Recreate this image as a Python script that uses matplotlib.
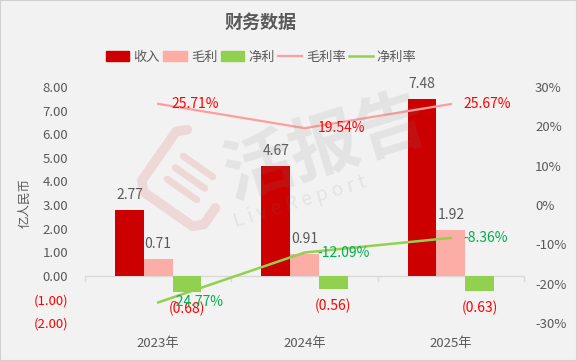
import matplotlib
matplotlib.use("Agg")
import matplotlib.pyplot as plt
from matplotlib.patches import Patch, Rectangle
from matplotlib.lines import Line2D
from matplotlib.ticker import FuncFormatter, FixedLocator
import matplotlib.transforms as mtransforms
import numpy as np

plt.rcParams['font.family'] = ['Noto Sans CJK SC', 'DejaVu Sans']

# ---------------- data ----------------
years = ["2023年", "2024年", "2025年"]
revenue = [2.77, 4.67, 7.48]
gross_profit = [0.71, 0.91, 1.92]
net_profit = [-0.68, -0.56, -0.63]
gross_margin = [25.71, 19.54, 25.67]
net_margin = [-24.77, -12.09, -8.36]

series_names = ["收入", "毛利", "净利", "毛利率", "净利率"]
left_ticks = [8, 7, 6, 5, 4, 3, 2, 1, 0, -1, -2]
right_ticks = [30, 20, 10, 0, -10, -20, -30]

# ---------------- style ----------------
BG = "#F2F2F2"
GREY = "#595959"
C_REV = "#CC0000"
C_GP = "#FBADA6"
C_NP = "#92D050"
C_GM = "#FF9D9D"
C_NM = "#92D050"
RED_TXT = "#FF0000"
GREEN_TXT = "#00B050"

W, H = 577, 361
fig = plt.figure(figsize=(W / 100, H / 100), dpi=100, facecolor=BG)

# figure border
fig.patches.append(Rectangle((0, 0), 1, 1, transform=fig.transFigure,
                             fill=False, edgecolor="#D0D0D0", linewidth=1.5))

left, right = 85 / W, 524 / W
bottom, top = 1 - 323 / H, 1 - 87 / H
ax = fig.add_axes([left, bottom, right - left, top - bottom])
ax.set_facecolor("none")
ax2 = ax.twinx()
ax2.set_facecolor("none")

x = np.arange(len(years))
bw = 0.196
ax.bar(x - bw, revenue, bw, color=C_REV, zorder=2)
ax.bar(x, gross_profit, bw, color=C_GP, zorder=2)
ax.bar(x + bw, net_profit, bw, color=C_NP, zorder=2)

ax.set_xlim(-0.5, 2.5)
ax.set_ylim(-2, 8)
ax2.set_ylim(-30, 30)

for a in (ax, ax2):
    for s in a.spines.values():
        s.set_visible(False)

# zero axis line with boundary ticks
ax.axhline(0, color="#D9D9D9", linewidth=1, zorder=1)
tick_len = 5 / (323 - 87) * 10
for b in [-0.5, 0.5, 1.5, 2.5]:
    ax.plot([b, b], [0, -tick_len], color="#D9D9D9", linewidth=1, zorder=1, clip_on=False)

ax.set_xticks([])
ax.yaxis.set_major_locator(FixedLocator(left_ticks))
ax.yaxis.set_major_formatter(FuncFormatter(lambda v, p: f"({abs(v):.2f})" if v < 0 else f"{v:.2f}"))
ax.tick_params(axis="y", length=0, labelsize=9.5, labelcolor=GREY, pad=12)
for lab, v in zip(ax.get_yticklabels(), left_ticks):
    if v < 0:
        lab.set_color(RED_TXT)

ax2.yaxis.set_major_locator(FixedLocator(right_ticks))
ax2.yaxis.set_major_formatter(FuncFormatter(lambda v, p: f"{v:.0f}%"))
ax2.tick_params(axis="y", length=0, labelsize=9.5, labelcolor=GREY, pad=8)

# y-axis title
fig.text(25 / W, 1 - 203 / H, "亿人民币", rotation=90, ha="center", va="center",
         fontsize=9, color=GREY)

# category labels at the bottom
trans = mtransforms.blended_transform_factory(ax.transData, fig.transFigure)
for xi, yr in zip(x, years):
    ax.text(xi, 1 - 343 / H, yr, transform=trans, ha="center", va="center",
            fontsize=9.5, color=GREY)

# lines
ax2.plot(x, gross_margin, color=C_GM, linewidth=1.6, zorder=3)
ax2.plot(x, net_margin, color=C_NM, linewidth=1.8, zorder=3)

# bar labels
for xi, v in zip(x, revenue):
    ax.annotate(f"{v:.2f}", (xi - bw, v), xytext=(0, 15), textcoords="offset pixels",
                ha="center", va="center", fontsize=10, color=GREY, zorder=5)
for xi, v in zip(x, gross_profit):
    ax.annotate(f"{v:.2f}", (xi, v), xytext=(0, 15), textcoords="offset pixels",
                ha="center", va="center", fontsize=10, color=GREY, zorder=5)
for xi, v in zip(x, net_profit):
    ax.annotate(f"({abs(v):.2f})", (xi + bw, v), xytext=(0, -17), textcoords="offset pixels",
                ha="center", va="center", fontsize=10, color=RED_TXT, zorder=5)

for xi, v in zip(x, gross_margin):
    ax2.annotate(f"{v:.2f}%", (xi, v), xytext=(13, 0), textcoords="offset pixels",
                 ha="left", va="center", fontsize=10, color=RED_TXT, zorder=5)
for xi, v in zip(x, net_margin):
    ax2.annotate(f"{v:.2f}%", (xi, v), xytext=(13, 0), textcoords="offset pixels",
                 ha="left", va="center", fontsize=10, color=GREEN_TXT, zorder=5)

# title
fig.text(261 / W, 1 - 22 / H, "财务数据", ha="center", va="center",
         fontsize=13, fontweight="bold", color=GREY)

# legend
handles = [Patch(color=C_REV), Patch(color=C_GP), Patch(color=C_NP),
           Line2D([], [], color=C_GM, linewidth=1.6),
           Line2D([], [], color=C_NM, linewidth=1.8)]
fig.legend(handles, series_names, loc="center", bbox_to_anchor=(261 / W, 1 - 57 / H),
           ncol=5, frameon=False, fontsize=9.5, labelcolor=GREY,
           handlelength=1.8, handletextpad=0.3, columnspacing=0.25, handleheight=0.7)

# watermark (approximate)
fig.text(325 / W, 1 - 148 / H, "活报告", ha="center", va="center", fontsize=50,
         fontweight="bold", color="#808080", alpha=0.13, rotation=17, zorder=10)
fig.text(300 / W, 1 - 202 / H, "L i v e R e p o r t", ha="center", va="center", fontsize=14,
         color="#808080", alpha=0.13, rotation=17, zorder=10)
# logo: rotated open square with lines
ang = np.deg2rad(35)
cx, cy = 190, 178
def tr(px, py):
    rx = cx + px * np.cos(ang) - py * np.sin(ang)
    ry = cy + px * np.sin(ang) + py * np.cos(ang)
    return rx / W, 1 - ry / H
sq = [(-30, -38), (-38, -30), (-38, 30), (-30, 38), (30, 38), (38, 30), (38, 10)]
xs, ys = zip(*[tr(*p) for p in sq])
fig.add_artist(Line2D(xs, ys, transform=fig.transFigure, color="#E06060", alpha=0.18,
                      linewidth=7, solid_capstyle="round", zorder=10))
for yy in (-14, 0, 14):
    xs, ys = zip(*[tr(-18, yy), tr(18, yy)])
    fig.add_artist(Line2D(xs, ys, transform=fig.transFigure, color="#E06060", alpha=0.18,
                          linewidth=5, solid_capstyle="round", zorder=10))

fig.savefig("out.png", dpi=100, facecolor=BG)
